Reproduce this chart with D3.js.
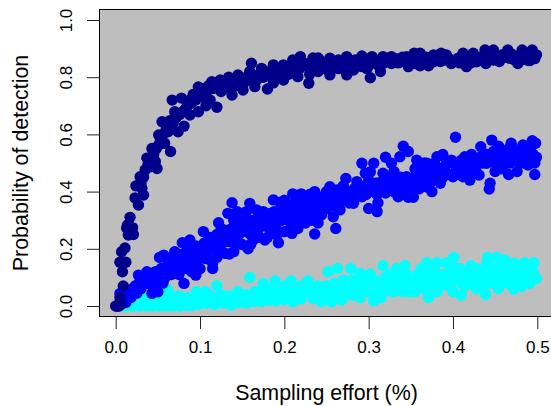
<!DOCTYPE html>
<html>
<head>
<meta charset="utf-8">
<script src="https://cdn.jsdelivr.net/npm/d3@7"></script>
<style>
html, body { margin: 0; padding: 0; background: #fff; overflow: hidden; }
svg { display: block; }
text { font-family: "Liberation Sans", Arial, sans-serif; fill: #000; }
</style>
</head>
<body>
<svg id="graph" width="551" height="406"></svg>
<script>
var xTicks = [0, 0.1, 0.2, 0.3, 0.4, 0.5];
var yTicks = [0, 0.2, 0.4, 0.6, 0.8, 1];
var xTitle = "Sampling effort (%)";
var yTitle = "Probability of detection";

var darkPoints = [
    [0,0],[0.002,0],[0.004,0],[0.006,0.005],[0.005,0.03],[0.009,0.07],[0.008,0.12],[0.005,0.153],[0.012,0.153],
    [0.007,0.19],[0.011,0.203],[0.013,0.273],[0.015,0.248],[0.021,0.25],[0.02,0.274],[0.017,0.31],[0.014,0.283],
    [0.027,0.353],[0.023,0.378],[0.033,0.388],[0.024,0.42],[0.031,0.412],[0.029,0.452],[0.035,0.476],[0.041,0.487],
    [0.049,0.481],[0.037,0.517],[0.047,0.505],[0.043,0.551],[0.051,0.563],[0.058,0.569],[0.065,0.54],[0.051,0.598],
    [0.062,0.609],[0.055,0.644],[0.064,0.648],[0.074,0.609],[0.081,0.629],[0.07,0.679],[0.067,0.72],[0.078,0.727],
    [0.088,0.668],[0.098,0.679],[0.107,0.7],[0.12,0.695],[0.098,0.766],[0.114,0.784],[0.083,0.69],[0.09,0.71],
    [0.104,0.732],[0.112,0.72],[0.125,0.75],[0.138,0.738],[0.124,0.79],[0.134,0.8],[0.145,0.808],[0.151,0.755],
    [0.165,0.767],[0.161,0.849],[0.159,0.82],[0.173,0.831],[0.18,0.759],[0.187,0.843],[0.187,0.78],[0.199,0.843],
    [0.199,0.79],[0.21,0.86],[0.219,0.872],[0.216,0.802],[0.229,0.779],[0.234,0.867],[0.24,0.867],[0.23,0.81],
    [0.242,0.86],[0.242,0.83],[0.254,0.808],[0.254,0.866],[0.264,0.86],[0.264,0.83],[0.274,0.872],[0.274,0.808],
    [0.282,0.825],[0.284,0.86],[0.292,0.874],[0.292,0.837],[0.302,0.798],[0.298,0.83],[0.304,0.872],[0.314,0.82],
    [0.317,0.872],[0.317,0.848],[0.327,0.872],[0.327,0.848],[0.337,0.854],[0.347,0.837],[0.345,0.872],[0.354,0.884],
    [0.355,0.848],[0.361,0.884],[0.361,0.84],[0.371,0.84],[0.377,0.878],[0.377,0.854],[0.386,0.884],[0.392,0.878],
    [0.398,0.848],[0.406,0.866],[0.412,0.884],[0.416,0.837],[0.424,0.884],[0.428,0.854],[0.438,0.895],[0.439,0.848],
    [0.448,0.895],[0.448,0.86],[0.458,0.878],[0.465,0.895],[0.467,0.866],[0.477,0.848],[0.482,0.895],[0.483,0.863],
    [0.494,0.895],[0.491,0.858],[0.499,0.878],
    [0.03,0.43],[0.033,0.45],[0.038,0.49],[0.04,0.51],[0.045,0.53],[0.048,0.55],[0.053,0.58],[0.056,0.6],[0.06,0.62],
    [0.063,0.63],[0.068,0.64],[0.072,0.66],[0.076,0.67],[0.08,0.68],[0.085,0.7],[0.088,0.72],[0.092,0.74],[0.095,0.72],
    [0.1,0.74],[0.103,0.76],[0.108,0.75],[0.11,0.77],[0.115,0.76],[0.118,0.78],[0.122,0.77],[0.128,0.76],[0.13,0.78],
    [0.135,0.77],[0.14,0.79],[0.142,0.77],[0.148,0.79],[0.152,0.78],[0.155,0.8],[0.158,0.79],[0.163,0.8],[0.167,0.79],
    [0.17,0.81],[0.175,0.8],[0.178,0.82],[0.182,0.81],[0.185,0.8],[0.19,0.82],[0.193,0.81],[0.196,0.83],[0.202,0.82],
    [0.205,0.81],[0.208,0.83],[0.212,0.82],[0.215,0.84],[0.218,0.83],[0.222,0.85],[0.226,0.84],[0.23,0.85],[0.233,0.83],
    [0.237,0.84],[0.24,0.82],[0.246,0.85],[0.248,0.83],[0.252,0.84],[0.256,0.83],[0.258,0.85],[0.262,0.84],[0.268,0.85],
    [0.27,0.83],[0.276,0.85],[0.279,0.84],[0.286,0.84],[0.289,0.85],[0.295,0.85],[0.3,0.84],[0.306,0.85],[0.31,0.855],
    [0.312,0.84],[0.322,0.86],[0.332,0.865],[0.335,0.85],[0.34,0.87],[0.35,0.86],[0.358,0.865],[0.365,0.86],[0.368,0.87],
    [0.373,0.855],[0.381,0.865],[0.385,0.855],[0.39,0.86],[0.395,0.865],[0.402,0.855],[0.408,0.85],[0.41,0.87],[0.418,0.86],
    [0.421,0.85],[0.426,0.87],[0.432,0.865],[0.436,0.875],[0.443,0.87],[0.452,0.87],[0.455,0.855],[0.461,0.87],[0.47,0.88],
    [0.473,0.86],[0.478,0.875],[0.486,0.88],[0.488,0.86],[0.493,0.875],[0.497,0.865]
];

var bluePoints = [
    [0.002,0],[0.005,0.005],[0.009,0.015],[0.012,0.012],[0.005,0.044],[0.018,0.03],[0.021,0.062],[0.025,0.045],
    [0.03,0.06],[0.027,0.108],[0.037,0.12],[0.035,0.079],[0.043,0.044],[0.05,0.05],[0.049,0.085],[0.058,0.097],
    [0.054,0.131],[0.052,0.17],[0.057,0.178],[0.064,0.126],[0.07,0.19],[0.072,0.149],[0.081,0.079],[0.083,0.131],
    [0.079,0.221],[0.088,0.231],[0.088,0.172],[0.095,0.108],[0.096,0.143],[0.104,0.26],[0.106,0.166],[0.115,0.131],
    [0.112,0.161],[0.118,0.225],[0.118,0.196],[0.122,0.291],[0.13,0.184],[0.135,0.182],[0.128,0.266],[0.135,0.225],
    [0.143,0.213],[0.133,0.324],[0.138,0.361],[0.144,0.33],[0.147,0.283],[0.157,0.2],[0.163,0.231],[0.177,0.231],
    [0.159,0.359],[0.159,0.3],[0.167,0.336],[0.171,0.277],[0.183,0.266],[0.191,0.248],[0.193,0.221],[0.187,0.371],
    [0.195,0.362],[0.183,0.324],[0.197,0.3],[0.207,0.347],[0.209,0.254],[0.216,0.271],[0.21,0.392],[0.22,0.392],
    [0.236,0.4],[0.222,0.336],[0.236,0.252],[0.232,0.3],[0.242,0.347],[0.225,0.37],[0.15,0.26],[0.17,0.31],
    [0.205,0.3],[0.11,0.2],[0.097,0.19],[0.075,0.18],[0.065,0.16],[0.045,0.1],[0.261,0.271],[0.258,0.312],
    [0.266,0.336],[0.244,0.318],[0.254,0.417],[0.262,0.406],[0.246,0.382],[0.266,0.371],[0.282,0.359],[0.273,0.446],
    [0.286,0.435],[0.28,0.4],[0.292,0.382],[0.3,0.341],[0.31,0.33],[0.311,0.361],[0.292,0.499],[0.306,0.499],
    [0.296,0.464],[0.302,0.469],[0.308,0.429],[0.317,0.464],[0.32,0.52],[0.327,0.499],[0.337,0.522],[0.327,0.423],
    [0.335,0.382],[0.345,0.452],[0.347,0.38],[0.341,0.559],[0.347,0.54],[0.353,0.38],[0.357,0.51],[0.359,0.411],
    [0.365,0.475],[0.375,0.4],[0.369,0.499],[0.381,0.522],[0.385,0.429],[0.388,0.53],[0.39,0.475],[0.4,0.499],
    [0.4,0.452],[0.403,0.59],[0.414,0.522],[0.412,0.452],[0.422,0.53],[0.42,0.44],[0.431,0.458],[0.426,0.499],
    [0.433,0.557],[0.444,0.429],[0.443,0.409],[0.44,0.499],[0.446,0.58],[0.454,0.559],[0.45,0.47],[0.456,0.516],
    [0.466,0.46],[0.469,0.569],[0.476,0.47],[0.47,0.53],[0.483,0.563],[0.479,0.499],[0.489,0.493],[0.494,0.578],
    [0.498,0.569],[0.499,0.52],[0.497,0.46],[0.487,0.534],[0.463,0.499],[0.32,0.43],[0.34,0.42],[0.355,0.45],
    [0.37,0.44],[0.38,0.47],[0.41,0.49],
    [0.015,0.04],[0.023,0.07],[0.028,0.08],[0.032,0.095],[0.04,0.095],[0.042,0.075],[0.047,0.12],[0.053,0.105],[0.056,0.08],
    [0.06,0.11],[0.062,0.145],[0.066,0.11],[0.068,0.17],[0.074,0.125],[0.077,0.155],[0.08,0.18],[0.082,0.155],[0.085,0.2],
    [0.09,0.15],[0.092,0.18],[0.095,0.21],[0.1,0.17],[0.102,0.2],[0.105,0.22],[0.108,0.19],[0.113,0.24],[0.116,0.21],
    [0.12,0.25],[0.122,0.21],[0.125,0.24],[0.127,0.22],[0.13,0.25],[0.133,0.23],[0.137,0.27],[0.14,0.24],[0.142,0.27],
    [0.146,0.25],[0.148,0.3],[0.152,0.28],[0.155,0.26],[0.157,0.28],[0.16,0.25],[0.163,0.28],[0.165,0.3],[0.168,0.26],
    [0.172,0.3],[0.175,0.28],[0.178,0.31],[0.18,0.29],[0.185,0.3],[0.188,0.33],[0.19,0.28],[0.193,0.32],[0.197,0.33],
    [0.2,0.35],[0.202,0.31],[0.205,0.33],[0.208,0.28],[0.212,0.36],[0.214,0.32],[0.217,0.35],[0.22,0.31],[0.224,0.35],
    [0.227,0.32],[0.23,0.37],[0.233,0.34],[0.236,0.37],[0.239,0.32],[0.241,0.38],[0.245,0.35],[0.248,0.37],[0.25,0.34],
    [0.252,0.38],[0.255,0.35],[0.258,0.38],[0.26,0.35],[0.264,0.38],[0.268,0.4],[0.27,0.37],[0.275,0.39],[0.277,0.36],
    [0.283,0.41],[0.285,0.38],[0.289,0.4],[0.29,0.42],[0.295,0.41],[0.297,0.39],[0.3,0.44],[0.303,0.42],[0.306,0.4],
    [0.311,0.43],[0.314,0.41],[0.318,0.44],[0.322,0.41],[0.325,0.45],[0.33,0.47],[0.332,0.43],[0.335,0.41],[0.338,0.45],
    [0.34,0.39],[0.343,0.42],[0.35,0.41],[0.352,0.44],[0.355,0.48],[0.36,0.44],[0.363,0.42],[0.366,0.5],[0.368,0.46],
    [0.373,0.43],[0.376,0.47],[0.378,0.5],[0.382,0.45],[0.385,0.48],[0.388,0.45],[0.392,0.5],[0.395,0.46],[0.398,0.51],
    [0.403,0.47],[0.405,0.5],[0.408,0.46],[0.41,0.51],[0.415,0.48],[0.418,0.46],[0.42,0.5],[0.424,0.47],[0.428,0.49],
    [0.432,0.52],[0.436,0.5],[0.44,0.53],[0.442,0.51],[0.448,0.54],[0.45,0.5],[0.453,0.53],[0.458,0.48],[0.46,0.54],
    [0.463,0.52],[0.466,0.55],[0.468,0.5],[0.472,0.55],[0.475,0.51],[0.478,0.54],[0.481,0.52],[0.484,0.5],[0.486,0.55],
    [0.49,0.52],[0.492,0.55],[0.495,0.53],[0.497,0.5],
    [0.115,0.15],[0.12,0.17],[0.14,0.19],[0.15,0.215],[0.16,0.215],[0.17,0.24],[0.18,0.24],[0.2,0.26],[0.215,0.29],
    [0.225,0.29],[0.24,0.29],[0.09,0.12],[0.1,0.13],[0.075,0.11],[0.09,0.215],[0.11,0.24],[0.125,0.27],[0.14,0.3],
    [0.155,0.33],[0.175,0.33],[0.2,0.37],[0.215,0.385],[0.23,0.39],[0.25,0.4],[0.27,0.42],[0.33,0.4],[0.345,0.39],
    [0.36,0.41],[0.37,0.415],[0.32,0.395],[0.31,0.39]
];

var cyanPoints = [
    [0.005,0],[0.012,0],[0.02,0],[0.028,0],[0.036,0],[0.044,0],[0.052,0],[0.06,0],[0.068,0],[0.076,0],[0.084,0.003],
    [0.09,0.002],[0.098,0.005],[0.108,0.009],[0.118,0.006],[0.128,0.01],[0.137,0.003],[0.146,0.012],[0.155,0.01],
    [0.164,0.016],[0.173,0.015],[0.182,0.02],[0.19,0.018],[0.2,0.022],[0.21,0.015],[0.22,0.025],[0.234,0.027],
    [0.031,0.032],[0.04,0.015],[0.05,0.02],[0.062,0.056],[0.055,0.035],[0.07,0.02],[0.075,0.035],[0.085,0.03],
    [0.096,0.05],[0.106,0.05],[0.09,0.02],[0.1,0.03],[0.12,0.071],[0.115,0.03],[0.125,0.04],[0.135,0.035],
    [0.145,0.05],[0.155,0.04],[0.159,0.1],[0.165,0.05],[0.175,0.079],[0.17,0.05],[0.185,0.055],[0.189,0.088],
    [0.195,0.05],[0.208,0.088],[0.205,0.05],[0.215,0.06],[0.228,0.088],[0.225,0.05],[0.24,0.07],[0.24,0.04],
    [0.252,0.12],[0.263,0.131],[0.279,0.131],[0.29,0.114],[0.302,0.112],[0.317,0.141],[0.333,0.131],[0.343,0.141],
    [0.359,0.114],[0.369,0.151],[0.381,0.151],[0.392,0.151],[0.401,0.17],[0.403,0.131],[0.421,0.141],[0.441,0.17],
    [0.452,0.17],[0.462,0.161],[0.44,0.149],[0.473,0.149],[0.485,0.151],[0.496,0.151],[0.499,0.096],[0.491,0.079],
    [0.481,0.067],[0.472,0.059],[0.454,0.061],[0.439,0.04],[0.428,0.06],[0.41,0.038],[0.4,0.05],[0.381,0.05],
    [0.371,0.03],[0.355,0.05],[0.341,0.05],[0.327,0.05],[0.315,0.029],[0.306,0.018],[0.29,0.029],[0.282,0.038],
    [0.268,0.021],[0.256,0.015],[0.244,0.015],[0.25,0.07],[0.26,0.08],[0.27,0.06],[0.28,0.09],[0.29,0.06],
    [0.3,0.08],[0.31,0.06],[0.32,0.1],[0.33,0.08],[0.34,0.09],[0.35,0.07],[0.36,0.1],[0.37,0.09],[0.38,0.1],
    [0.39,0.08],[0.4,0.11],[0.41,0.08],[0.42,0.1],[0.43,0.07],[0.44,0.11],[0.45,0.09],[0.46,0.12],[0.47,0.09],
    [0.48,0.11],[0.49,0.1],[0.495,0.12],
    [0.045,0.03],[0.058,0.015],[0.065,0.035],[0.08,0.015],[0.095,0.025],[0.105,0.025],[0.11,0.04],[0.12,0.02],[0.13,0.025],
    [0.14,0.02],[0.15,0.03],[0.16,0.03],[0.168,0.03],[0.178,0.04],[0.18,0.06],[0.188,0.035],[0.198,0.04],[0.2,0.07],
    [0.21,0.04],[0.218,0.045],[0.22,0.07],[0.23,0.06],[0.235,0.05],[0.245,0.05],[0.248,0.035],[0.255,0.06],[0.258,0.035],
    [0.265,0.05],[0.27,0.09],[0.275,0.04],[0.278,0.07],[0.285,0.06],[0.288,0.09],[0.295,0.05],[0.298,0.1],[0.305,0.04],
    [0.308,0.09],[0.312,0.05],[0.315,0.08],[0.322,0.06],[0.325,0.11],[0.33,0.05],[0.335,0.1],[0.338,0.07],[0.345,0.11],
    [0.348,0.05],[0.352,0.09],[0.358,0.07],[0.362,0.13],[0.365,0.06],[0.372,0.11],[0.375,0.07],[0.378,0.13],[0.385,0.07],
    [0.388,0.11],[0.395,0.07],[0.398,0.13],[0.405,0.09],[0.408,0.13],[0.415,0.07],[0.418,0.12],[0.425,0.09],[0.428,0.13],
    [0.435,0.06],[0.438,0.12],[0.445,0.08],[0.448,0.13],[0.455,0.1],[0.458,0.14],[0.465,0.08],[0.468,0.13],[0.475,0.1],
    [0.478,0.13],[0.483,0.09],[0.488,0.13],[0.493,0.09],
    [0.31,0.075],[0.335,0.07],[0.355,0.085],[0.37,0.07],[0.39,0.1],[0.41,0.1],[0.43,0.1],[0.45,0.11],[0.46,0.095],
    [0.47,0.11],[0.48,0.09],[0.49,0.12],[0.42,0.08],[0.44,0.09],[0.4,0.09],[0.38,0.08],[0.365,0.12],[0.345,0.075]
];

var darkColor = "#00008b";
var blueColor = "#0000ff";
var cyanColor = "#00ffff";
var panelColor = "#bebebe";
var radius = 5.7;

var svg = d3.select("#graph");
var x = d3.scaleLinear().domain([0, 0.5]).range([115.7, 537.3]);
var y = d3.scaleLinear().domain([0, 1]).range([306, 20]);

svg.append("rect")
    .attr("x", 99.5)
    .attr("y", 9.5)
    .attr("width", 470)
    .attr("height", 307)
    .style("fill", panelColor)
    .style("stroke", "none");

function drawPoints(points, color) {
    svg.append("g").selectAll("circle")
        .data(points)
        .enter().append("circle")
        .attr("cx", function (d) { return x(d[0]); })
        .attr("cy", function (d) { return y(d[1]); })
        .attr("r", radius)
        .style("fill", color);
}
drawPoints(cyanPoints, cyanColor);
drawPoints(bluePoints, blueColor);
drawPoints(darkPoints, darkColor);

// box goes on top of the points, right side runs off the page
svg.append("rect")
    .attr("x", 99.5)
    .attr("y", 9.5)
    .attr("width", 470)
    .attr("height", 307)
    .style("fill", "none")
    .style("stroke", "#000");

var xAxis = d3.axisBottom(x).tickValues(xTicks).tickFormat(d3.format(".1f")).tickSize(12).tickPadding(12);
var yAxis = d3.axisLeft(y).tickValues(yTicks).tickFormat(d3.format(".1f")).tickSize(12);

var gx = svg.append("g").attr("transform", "translate(0,317)").call(xAxis);
var gy = svg.append("g").attr("transform", "translate(99,0)").call(yAxis);
gx.select(".domain").remove();
gy.select(".domain").remove();
gx.selectAll("line").style("stroke", "#222");
gy.selectAll("line").style("stroke", "#222");
gx.selectAll("text").style("font-size", "17px");
gy.selectAll("text")
    .style("font-size", "17px")
    .style("text-anchor", "middle")
    .attr("x", null)
    .attr("dy", null)
    .attr("transform", "translate(-27,0) rotate(-90)");

svg.append("text")
    .attr("x", 326.5)
    .attr("y", 400)
    .attr("text-anchor", "middle")
    .style("font-size", "21.4px")
    .text(xTitle);

svg.append("text")
    .attr("transform", "translate(28,163) rotate(-90)")
    .attr("text-anchor", "middle")
    .style("font-size", "21.4px")
    .text(yTitle);
</script>
</body>
</html>
